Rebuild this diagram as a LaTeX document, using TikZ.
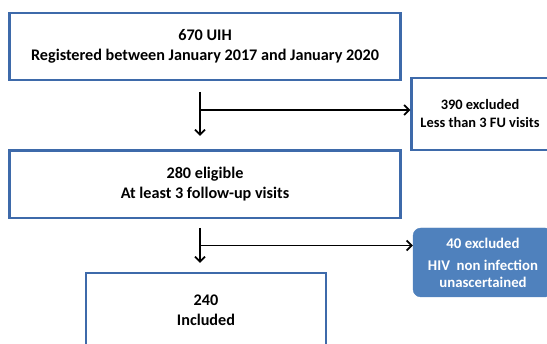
\documentclass[tikz,border=0pt]{standalone}
\usepackage{fontspec}
\setmainfont{Carlito}
\usetikzlibrary{arrows.meta}
\definecolor{boxblue}{RGB}{62,106,170}
\definecolor{fillblue}{RGB}{79,129,189}
\tikzset{
  flowbox/.style={draw=boxblue, line width=2.2pt, fill=white, inner sep=0pt, align=center, font=\bfseries\fontsize{16.2}{20.5}\selectfont},
  sidebox/.style={draw=boxblue, line width=2.2pt, fill=white, inner sep=0pt, align=center, font=\bfseries\fontsize{14.4}{18}\selectfont},
  exclbox/.style={fill=fillblue, draw=fillblue, rounded corners=8pt, inner sep=0pt, align=center, text=white, font=\bfseries\fontsize{14.8}{18}\selectfont},
  flowarrow/.style={line width=1.8pt, -{Straight Barb[length=5pt,width=10pt,line width=1.8pt]}}
}
\begin{document}
\begin{tikzpicture}[x=1pt,y=-1pt]
\useasboundingbox (0,0) rectangle (547,344);
\node[flowbox, minimum width=391pt, minimum height=66.5pt] (uih) at (205,46.5) {670 UIH\\Registered between January 2017 and January 2020};
\node[sidebox, minimum width=137pt, minimum height=72pt] (ex1) at (480,114) {390 excluded\\Less than 3 FU visits};
\node[flowbox, minimum width=391pt, minimum height=67.5pt] (elig) at (205,184.25) {280 eligible\\At least 3 follow-up visits};
\node[exclbox, minimum width=140pt, minimum height=69pt] (ex2) at (483,262.5) {40 excluded\\[4pt]HIV~~non infection\\[-1pt]unascertained};
\node[flowbox, minimum width=240pt, minimum height=75pt] (incl) at (206,310.5) {240\\Included};
\coordinate (a1s) at (200,92);
\coordinate (a1e) at (200,136);
\coordinate (a1m) at (200,110);
\coordinate (a2s) at (200,228);
\coordinate (a2e) at (200,263);
\coordinate (a2m) at (200,245.5);
\draw[flowarrow] (a1s) -- (a1e);
\draw[flowarrow] (a1m) -- (a1m -| ex1.west);
\draw[flowarrow] (a2s) -- (a2e);
\draw[flowarrow] (a2m) -- (a2m -| ex2.west);
\end{tikzpicture}
\end{document}
